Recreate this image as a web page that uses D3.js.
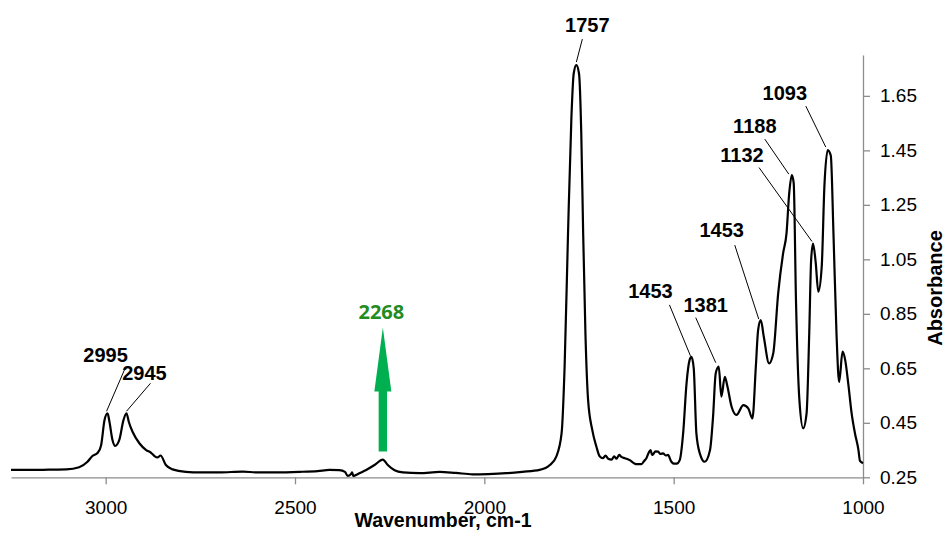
<!DOCTYPE html>
<html>
<head>
<meta charset="utf-8">
<script src="https://cdn.jsdelivr.net/npm/d3@7"></script>
<style>
  html, body { margin: 0; padding: 0; background: #fff; }
  svg { display: block; }
  text { font-family: "Liberation Sans", Arial, sans-serif; }
</style>
</head>
<body>
<svg id="chart" width="946" height="534"></svg>
<script>
// FTIR absorbance spectrum (wavenumber in cm-1, descending)
const wavenumber = [
  3250, 3200, 3150, 3104, 3070, 3048, 3035, 3021, 3012, 3003,
  2995, 2990, 2982, 2975, 2964, 2953, 2945, 2939, 2929, 2911,
  2893, 2880, 2871, 2863, 2855, 2841, 2823, 2788, 2750, 2700,
  2638, 2600, 2550, 2488, 2440, 2409, 2383, 2368, 2361, 2352,
  2349, 2346, 2340, 2330, 2312, 2290, 2268, 2255, 2237, 2215,
  2171, 2118, 2075, 2031, 1990, 1942, 1900, 1854, 1827, 1810,
  1796, 1788, 1779, 1770, 1764, 1757, 1750, 1744, 1739, 1733,
  1726, 1715, 1704, 1695, 1687, 1680, 1673, 1664, 1657, 1651,
  1644, 1638, 1629, 1616, 1605, 1598, 1585, 1578, 1572, 1566,
  1561, 1557, 1554, 1548, 1541, 1535, 1528, 1521, 1515, 1506,
  1500, 1492, 1484, 1475, 1466, 1458, 1453, 1447, 1440, 1431,
  1418, 1404, 1396, 1389, 1381, 1374, 1365, 1359, 1347, 1334,
  1316, 1303, 1292, 1283, 1277, 1270, 1262, 1248, 1237, 1224,
  1211, 1202, 1195, 1188, 1183, 1177, 1168, 1158, 1149, 1142,
  1137, 1132, 1125, 1118, 1109, 1102, 1093, 1085, 1078, 1070,
  1063, 1054, 1047, 1039, 1030, 1021, 1012, 1008, 1000
];
const absorbance = [
  0.277, 0.277, 0.278, 0.279, 0.287, 0.307, 0.328, 0.340, 0.368, 0.460,
  0.485, 0.454, 0.387, 0.365, 0.387, 0.460, 0.485, 0.454, 0.417, 0.375,
  0.350, 0.340, 0.328, 0.323, 0.330, 0.295, 0.279, 0.270, 0.268, 0.268,
  0.271, 0.268, 0.268, 0.270, 0.273, 0.277, 0.276, 0.270, 0.255, 0.262,
  0.268, 0.255, 0.258, 0.265, 0.277, 0.295, 0.315, 0.295, 0.276, 0.268,
  0.265, 0.270, 0.266, 0.261, 0.262, 0.265, 0.270, 0.277, 0.295, 0.326,
  0.411, 0.656, 1.145, 1.573, 1.732, 1.763, 1.732, 1.512, 1.145, 0.778,
  0.534, 0.424, 0.362, 0.326, 0.320, 0.330, 0.318, 0.315, 0.327, 0.318,
  0.332, 0.325, 0.320, 0.313, 0.302, 0.298, 0.298, 0.310, 0.320, 0.340,
  0.350, 0.332, 0.335, 0.345, 0.344, 0.336, 0.338, 0.330, 0.332, 0.307,
  0.300, 0.300, 0.313, 0.411, 0.595, 0.680, 0.692, 0.650, 0.411, 0.338,
  0.307, 0.350, 0.472, 0.631, 0.656, 0.546, 0.619, 0.590, 0.509, 0.479,
  0.515, 0.503, 0.466, 0.656, 0.790, 0.827, 0.766, 0.668, 0.705, 0.925,
  1.072, 1.145, 1.290, 1.359, 1.330, 0.900, 0.534, 0.430, 0.485, 0.778,
  1.047, 1.108, 1.040, 0.931, 1.023, 1.316, 1.451, 1.430, 1.145, 0.778,
  0.600, 0.711, 0.680, 0.595, 0.485, 0.410, 0.350, 0.310, 0.302
];

// Axis ticks
const xTicks = [3000, 2500, 2000, 1500, 1000];
const yTicks = [0.25, 0.45, 0.65, 0.85, 1.05, 1.25, 1.45, 1.65];

// Peak annotations: label text and the wavenumber of the peak it points to
const peakLabels = ["2995", "2945", "1757", "1453", "1381", "1453", "1188", "1132", "1093"];
const peakAt     = [2995,   2945,   1757,   1453,   1381,   1270,   1188,   1132,   1093];

// Highlighted band
const markerLabel = "2268";
const markerAt = 2268;

// Callout placement relative to the peak point: leader start, leader end, label anchor (px)
const calloutLayout = [
  { b: [-1, -2], t: [18, -46], l: [-2, -51] },
  { b: [0, -2],  t: [24, -30], l: [18, -33] },
  { b: [0, -3],  t: [6, -26],  l: [11, -33] },
  { b: [-1, -1], t: [-22, -52], l: [-41, -59] },
  { b: [-3, -4], t: [-23, -49], l: [-13, -55] },
  { b: [-2, -1], t: [-26, -75], l: [-39, -83] },
  { b: [-3, -1], t: [-27, -36], l: [-37, -42] },
  { b: [-1, -2], t: [-54, -76], l: [-71, -82] },
  { b: [-2, -3], t: [-22, -44], l: [-43, -50] }
];

const svg = d3.select("#chart");
const plotLeft = 11, plotRight = 863, plotTop = 55, plotBottom = 477.3;

const x = d3.scaleLinear().domain([3250, 1000]).range([plotLeft, plotRight]);
const y = d3.scaleLinear().domain([0.25, 1.80]).range([plotBottom, plotTop]);

const axisColor = "#8c8c8c";

// X axis
const gx = svg.append("g")
  .attr("transform", `translate(0,${plotBottom})`)
  .call(d3.axisBottom(x).tickValues(xTicks).tickSize(7).tickSizeOuter(0).tickFormat(d3.format("d")));
gx.select(".domain").attr("stroke", axisColor).attr("stroke-width", 1.3);
gx.selectAll(".tick line").attr("stroke", axisColor).attr("stroke-width", 1.3);
gx.selectAll(".tick text")
  .attr("y", 37).attr("dy", 0)
  .attr("fill", "#000")
  .style("font-size", "19px")
  .style("font-family", "'Liberation Sans', Arial, sans-serif");

// Y axis on the right
const gy = svg.append("g")
  .attr("transform", `translate(${plotRight},0)`)
  .call(d3.axisRight(y).tickValues(yTicks).tickSize(7).tickSizeOuter(0).tickPadding(10).tickFormat(d3.format(".2f")));
gy.select(".domain").attr("stroke", axisColor).attr("stroke-width", 1.3);
gy.selectAll(".tick line").attr("stroke", axisColor).attr("stroke-width", 1.3);
gy.selectAll(".tick text")
  .attr("fill", "#000")
  .style("font-size", "19px")
  .style("font-family", "'Liberation Sans', Arial, sans-serif");

// Axis titles
svg.append("text")
  .attr("x", 443).attr("y", 527)
  .attr("text-anchor", "middle")
  .style("font-size", "19.5px").style("font-weight", "bold")
  .text("Wavenumber, cm-1");

svg.append("text")
  .attr("transform", "translate(942,288) rotate(-90)")
  .attr("text-anchor", "middle")
  .style("font-size", "20px").style("font-weight", "bold")
  .text("Absorbance");

// Spectrum
const points = wavenumber.map((w, i) => [w, absorbance[i]]);
const line = d3.line().x(d => x(d[0])).y(d => y(d[1])).curve(d3.curveMonotoneX);
svg.append("path")
  .datum(points)
  .attr("fill", "none")
  .attr("stroke", "#000")
  .attr("stroke-width", 2.2)
  .attr("stroke-linejoin", "round")
  .attr("d", line);

const absAt = w => absorbance[wavenumber.indexOf(w)];

// Peak callouts
peakLabels.forEach((txt, i) => {
  const px = x(peakAt[i]), py = y(absAt(peakAt[i]));
  const c = calloutLayout[i];
  svg.append("line")
    .attr("x1", px + c.b[0]).attr("y1", py + c.b[1])
    .attr("x2", px + c.t[0]).attr("y2", py + c.t[1])
    .attr("stroke", "#000").attr("stroke-width", 1);
  svg.append("text")
    .attr("x", px + c.l[0]).attr("y", py + c.l[1])
    .attr("text-anchor", "middle")
    .style("font-size", "20px").style("font-weight", "bold")
    .text(txt);
});

// Arrow marking the 2268 band
{
  const ax = x(markerAt), ay = y(absAt(markerAt));
  const base = ay - 8, headBase = ay - 68, tip = ay - 132;
  svg.append("path")
    .attr("d", `M${ax - 4.2},${base} L${ax - 4.2},${headBase} L${ax - 8.5},${headBase}
                L${ax},${tip} L${ax + 8.5},${headBase} L${ax + 4.2},${headBase} L${ax + 4.2},${base} Z`)
    .attr("fill", "#00b050");
  svg.append("text")
    .attr("x", ax - 1.5).attr("y", tip - 9)
    .attr("text-anchor", "middle")
    .style("font-family", "'Open Sans', sans-serif")
    .style("font-size", "20px").style("font-weight", "bold")
    .attr("fill", "#228b22")
    .text(markerLabel);
}
</script>
</body>
</html>
